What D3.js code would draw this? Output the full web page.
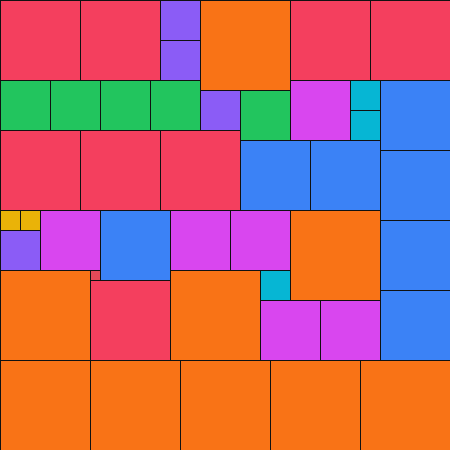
<!DOCTYPE html>
<html>
<head>
<meta charset="utf-8">
<script src="https://cdn.jsdelivr.net/npm/d3@7"></script>
<style>
  html, body { margin: 0; padding: 0; background: #fff; }
  svg { display: block; }
</style>
</head>
<body>
<div id="chart"></div>
<script>
// categories and the side of their square (in grid units, 1 unit = 10px)
var categories = ["orange", "red", "blue", "fuchsia", "green", "violet", "cyan", "yellow"];
var sides      = [9, 8, 7, 6, 5, 4, 3, 2];
var colours    = ["#f97316", "#f43f5e", "#3b82f6", "#d946ef", "#22c55e", "#8b5cf6", "#06b6d4", "#eab308"];

// the order the squares go into the box
var items = [
  "red", "red", "violet", "orange", "red", "red", "violet",
  "green", "green", "green", "green", "fuchsia", "cyan", "blue",
  "violet", "green", "cyan", "red", "red", "red", "blue", "blue", "blue",
  "yellow", "yellow", "fuchsia", "blue", "fuchsia", "fuchsia", "orange",
  "blue", "violet", "orange", "orange", "cyan", "red", "blue",
  "fuchsia", "fuchsia", "orange", "orange", "orange", "orange", "orange"
];

var boxWidth = 45, boxHeight = 45;

var width = 450, height = 450;

var side = d3.scaleOrdinal().domain(categories).range(sides);
var colour = d3.scaleOrdinal().domain(categories).range(colours);
var x = d3.scaleLinear().domain([0, boxWidth]).range([0, width]);
var y = d3.scaleLinear().domain([0, boxHeight]).range([0, height]);

// skyline packing: each square goes to the lowest spot, leftmost on ties
var sky = [{x: 0, w: boxWidth, h: 0}];
function place(s) {
  var best = null;
  sky.forEach(function(seg) {
    if (seg.x + s > boxWidth) return;
    var top = d3.max(sky.filter(function(o) { return o.x < seg.x + s && o.x + o.w > seg.x; }),
                     function(o) { return o.h; });
    if (!best || top < best.y) best = {x: seg.x, y: top};
  });
  // rebuild the skyline with the new square on it
  var next = [];
  sky.forEach(function(o) {
    var a = o.x, b = o.x + o.w;
    if (b <= best.x || a >= best.x + s) { next.push(o); return; }
    if (a < best.x) next.push({x: a, w: best.x - a, h: o.h});
    if (b > best.x + s) next.push({x: best.x + s, w: b - best.x - s, h: o.h});
  });
  next.push({x: best.x, w: s, h: best.y + s});
  next.sort(function(p, q) { return p.x - q.x; });
  sky = next;
  return best;
}

var squares = items.map(function(c) {
  var s = side(c), p = place(s);
  return {cat: c, x: p.x, y: p.y, s: s};
});

var svg = d3.select("#chart").append("svg")
    .attr("width", width).attr("height", height);

// the box itself, it only shows where nothing landed
svg.append("rect")
    .attr("width", width).attr("height", height)
    .style("fill", "#e44a58");

svg.selectAll("rect.sq")
    .data(squares)
  .enter().append("rect")
    .attr("class", "sq")
    .attr("x", function(d) { return x(d.x) + 0.5; })
    .attr("y", function(d) { return y(d.y) + 0.5; })
    .attr("width", function(d) { return x(d.s) - x(0); })
    .attr("height", function(d) { return y(d.s) - y(0); })
    .style("fill", function(d) { return colour(d.cat); })
    .style("stroke", "#111")
    .style("stroke-width", 1);
</script>
</body>
</html>
